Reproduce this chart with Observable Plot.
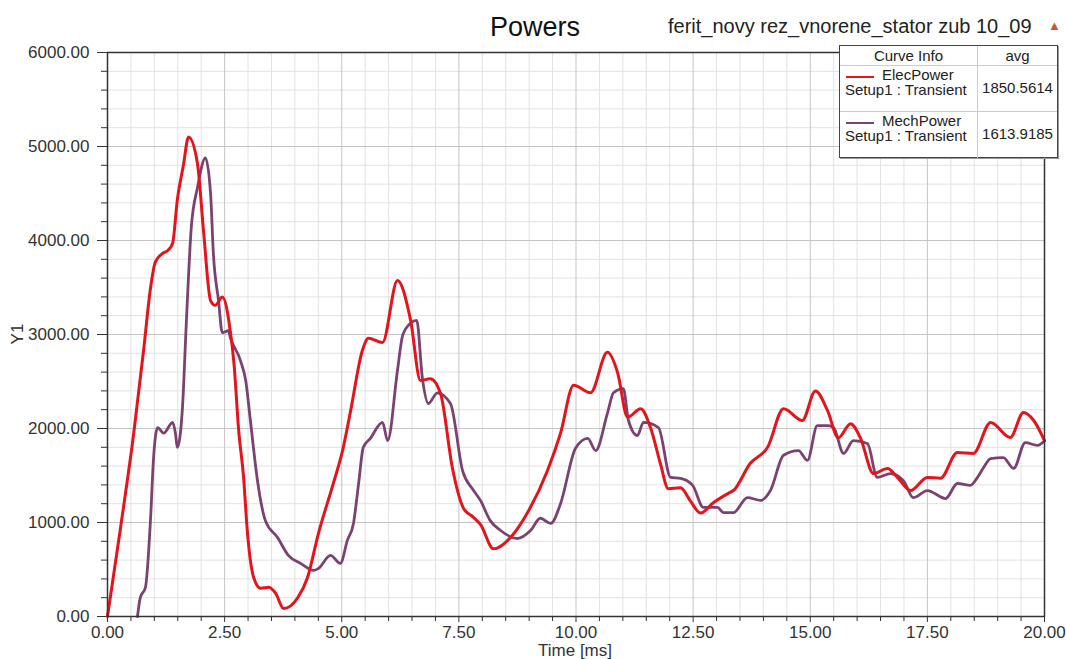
<!DOCTYPE html>
<html>
<head>
<meta charset="utf-8">
<script src="https://cdn.jsdelivr.net/npm/d3@7"></script>
<script src="https://cdn.jsdelivr.net/npm/@observablehq/plot@0.6"></script>
<style>
  html, body { margin: 0; padding: 0; background: #fff; }
  #wrap { position: relative; width: 1066px; height: 659px; font-family: "Liberation Sans", Arial, sans-serif; color: #333; }
  #wrap svg { position: absolute; left: 0; top: 0; }
  .ov { position: absolute; white-space: nowrap; }
  #legend { position: absolute; left: 839px; top: 45px; width: 219px; height: 113px; border: 1px solid #444; background: #fff; box-shadow: 1px 1px 0 #999; box-sizing: border-box; font-size: 15px; color: #222; }
  #legend .row { position: absolute; left: 0; width: 100%; box-sizing: border-box; }
  #legend .c1 { position: absolute; left: 0; width: 137px; top: 0; bottom: 0; border-right: 1px solid #ccc; }
  #legend .c2 { position: absolute; left: 138px; right: 0; top: 0; bottom: 0; text-align: center; }
</style>
</head>
<body>
<div id="wrap"></div>
<script>
// ---- data ----
const elecT = [0, 0.28, 0.56, 0.77, 0.92, 1.02, 1.17, 1.30, 1.39, 1.49, 1.62, 1.73, 1.92, 2.05, 2.20, 2.30, 2.45, 2.62, 2.70, 2.80, 2.91, 2.97, 3.12, 3.27, 3.44, 3.59, 3.76, 4.06, 4.27, 4.50, 4.82, 5.02, 5.19, 5.44, 5.57, 5.87, 6.19, 6.47, 6.68, 6.89, 7.11, 7.36, 7.60, 7.80, 7.96, 8.24, 8.67, 8.96, 9.39, 9.67, 9.95, 10.31, 10.67, 10.89, 11.10, 11.38, 11.59, 11.80, 11.97, 12.23, 12.44, 12.66, 12.93, 13.25, 13.36, 13.72, 14.09, 14.43, 14.83, 15.11, 15.37, 15.60, 15.86, 16.07, 16.35, 16.65, 16.86, 17.14, 17.50, 17.78, 18.14, 18.48, 18.85, 19.27, 19.55, 19.77, 20.00];
const elecP = [0, 950, 1950, 2830, 3500, 3770, 3860, 3900, 3970, 4430, 4800, 5100, 4820, 4100, 3360, 3310, 3400, 3040, 2690, 1980, 1450, 1000, 415, 300, 310, 245, 85, 200, 415, 880, 1415, 1770, 2190, 2830, 2960, 2915, 3575, 3150, 2510, 2530, 2370, 1585, 1150, 1060, 980, 720, 880, 1100, 1550, 1950, 2460, 2380, 2810, 2590, 2120, 2210, 2010, 1630, 1360, 1370, 1230, 1100, 1210, 1310, 1340, 1630, 1800, 2210, 2085, 2400, 2190, 1900, 2050, 1900, 1520, 1575, 1480, 1340, 1480, 1470, 1745, 1735, 2065, 1905, 2170, 2085, 1870];

const mechT = [0.64, 0.70, 0.81, 0.92, 0.98, 1.07, 1.20, 1.39, 1.45, 1.49, 1.60, 1.68, 1.79, 1.92, 2.09, 2.20, 2.26, 2.37, 2.45, 2.58, 2.62, 2.84, 2.95, 3.05, 3.20, 3.37, 3.63, 3.86, 4.12, 4.40, 4.50, 4.76, 4.97, 5.12, 5.25, 5.36, 5.46, 5.61, 5.87, 5.98, 6.19, 6.30, 6.47, 6.60, 6.72, 6.85, 7.04, 7.32, 7.58, 7.80, 7.96, 8.17, 8.39, 8.75, 9.03, 9.24, 9.46, 9.67, 9.99, 10.25, 10.42, 10.67, 10.80, 11.01, 11.12, 11.31, 11.44, 11.76, 12.02, 12.23, 12.49, 12.72, 13.02, 13.15, 13.36, 13.66, 13.94, 14.15, 14.43, 14.75, 14.94, 15.15, 15.39, 15.50, 15.71, 15.92, 16.22, 16.43, 16.71, 16.99, 17.20, 17.50, 17.89, 18.14, 18.42, 18.57, 18.70, 18.85, 19.12, 19.34, 19.59, 19.85, 20.00];
const mechP = [0, 200, 310, 1050, 1660, 2010, 1950, 2065, 1950, 1800, 2220, 3100, 4150, 4560, 4880, 4500, 3860, 3360, 3020, 3040, 2970, 2720, 2510, 2085, 1450, 1020, 840, 650, 565, 490, 510, 650, 565, 810, 990, 1415, 1800, 1895, 2065, 1870, 2620, 2990, 3120, 3150, 2540, 2265, 2380, 2265, 1550, 1350, 1235, 1020, 915, 830, 915, 1045, 990, 1200, 1790, 1895, 1765, 2160, 2380, 2425, 2085, 1925, 2065, 2010, 1480, 1470, 1395, 1160, 1160, 1105, 1105, 1265, 1235, 1340, 1715, 1765, 1660, 2030, 2030, 2010, 1735, 1870, 1840, 1480, 1520, 1445, 1265, 1340, 1255, 1415, 1395, 1480, 1585, 1680, 1690, 1575, 1850, 1820, 1870];

const seriesNames = ["ElecPower", "MechPower"];
const seriesSetup = ["Setup1 : Transient", "Setup1 : Transient"];
const seriesAvg = ["1850.5614", "1613.9185"];
const seriesColors = ["#e3141c", "#7a4270"];

const xMajorTicks = [0, 2.5, 5, 7.5, 10, 12.5, 15, 17.5, 20];
const xMinorTicks = [0.5, 1, 1.5, 2, 3, 3.5, 4, 4.5, 5.5, 6, 6.5, 7, 8, 8.5, 9, 9.5, 10.5, 11, 11.5, 12, 13, 13.5, 14, 14.5, 15.5, 16, 16.5, 17, 18, 18.5, 19, 19.5];
const yMajorTicks = [0, 1000, 2000, 3000, 4000, 5000, 6000];
const yMinorTicks = [200, 400, 600, 800, 1200, 1400, 1600, 1800, 2200, 2400, 2600, 2800, 3200, 3400, 3600, 3800, 4200, 4400, 4600, 4800, 5200, 5400, 5600, 5800];

const titleText = "Powers";
const subtitleText = "ferit_novy rez_vnorene_stator zub 10_09";
const xLabel = "Time [ms]";
const yLabel = "Y1";

// ---- build ----
const elec = elecT.map((t, i) => ({t, p: elecP[i]}));
const mech = mechT.map((t, i) => ({t, p: mechP[i]}));

const chart = Plot.plot({
  width: 1066,
  height: 659,
  marginLeft: 107,
  marginRight: 22,
  marginTop: 52,
  marginBottom: 43,
  x: {domain: [0, 20]},
  y: {domain: [0, 6000]},
  style: {fontFamily: "'Liberation Sans', Arial, sans-serif", fontSize: "17px", color: "#333", background: "#fff"},
  marks: [
    Plot.gridX(xMinorTicks, {stroke: "#e2e2e2", strokeOpacity: 1}),
    Plot.gridY(yMinorTicks, {stroke: "#e2e2e2", strokeOpacity: 1}),
    Plot.gridX(xMajorTicks, {stroke: "#c4c4c4", strokeOpacity: 1}),
    Plot.gridY(yMajorTicks, {stroke: "#c4c4c4", strokeOpacity: 1}),
    Plot.axisX(xMinorTicks, {tickSize: 5, text: null, stroke: "#333", label: null}),
    Plot.axisX(xMajorTicks, {tickSize: 6, tickPadding: 3, tickFormat: d => d.toFixed(2), stroke: "#333", fill: "#333", label: null, fontSize: 17}),
    Plot.axisY(yMinorTicks, {tickSize: 6, text: null, stroke: "#333", label: null}),
    Plot.axisY(yMajorTicks, {tickSize: 10, tickPadding: 8, tickFormat: d => d.toFixed(2), stroke: "#333", fill: "#333", label: null, fontSize: 17}),
    Plot.line(mech, {x: "t", y: "p", stroke: seriesColors[1], strokeWidth: 2.8, curve: "monotone-x"}),
    Plot.line(elec, {x: "t", y: "p", stroke: seriesColors[0], strokeWidth: 3, curve: "monotone-x"}),
    Plot.frame({stroke: "#333", strokeWidth: 1.5})
  ]
});

const wrap = document.getElementById("wrap");
wrap.appendChild(chart);

function ov(text, css) {
  const d = document.createElement("div");
  d.className = "ov";
  d.textContent = text;
  Object.assign(d.style, css);
  wrap.appendChild(d);
  return d;
}
ov(titleText, {left: "490px", top: "12px", fontSize: "27px", color: "#111"});
ov(subtitleText, {left: "668px", top: "15px", fontSize: "20px", color: "#222"});
ov("\u25B2", {left: "1048px", top: "18px", fontSize: "13px", color: "#d05030"});
ov(xLabel, {left: "575px", top: "641px", fontSize: "17px", color: "#333", transform: "translateX(-50%)"});
ov(yLabel, {left: "18px", top: "334px", fontSize: "17px", color: "#333", transform: "translate(-50%,-50%) rotate(-90deg)"});

// legend
const lg = document.createElement("div");
lg.id = "legend";
const hdr = document.createElement("div");
hdr.className = "row";
Object.assign(hdr.style, {top: "0px", height: "20px", borderBottom: "1px solid #ccc", lineHeight: "19px"});
hdr.innerHTML = '<div class="c1" style="text-align:center">Curve Info</div><div class="c2">avg</div>';
lg.appendChild(hdr);
seriesNames.forEach((name, i) => {
  const r = document.createElement("div");
  r.className = "row";
  Object.assign(r.style, {top: (20 + i * 46) + "px", height: "46px", borderBottom: i === 0 ? "1px solid #ccc" : "none"});
  r.innerHTML =
    '<div class="c1">' +
      '<div style="position:absolute;left:6px;top:10px;width:28px;height:0;border-top:2px solid ' + seriesColors[i] + '"></div>' +
      '<div style="position:absolute;left:42px;top:1px;line-height:16px">' + name + '</div>' +
      '<div style="position:absolute;left:5px;top:16px;line-height:16px">' + seriesSetup[i] + '</div>' +
    '</div>' +
    '<div class="c2" style="line-height:16px;padding-top:14px">' + seriesAvg[i] + '</div>';
  lg.appendChild(r);
});
wrap.appendChild(lg);
</script>
</body>
</html>
